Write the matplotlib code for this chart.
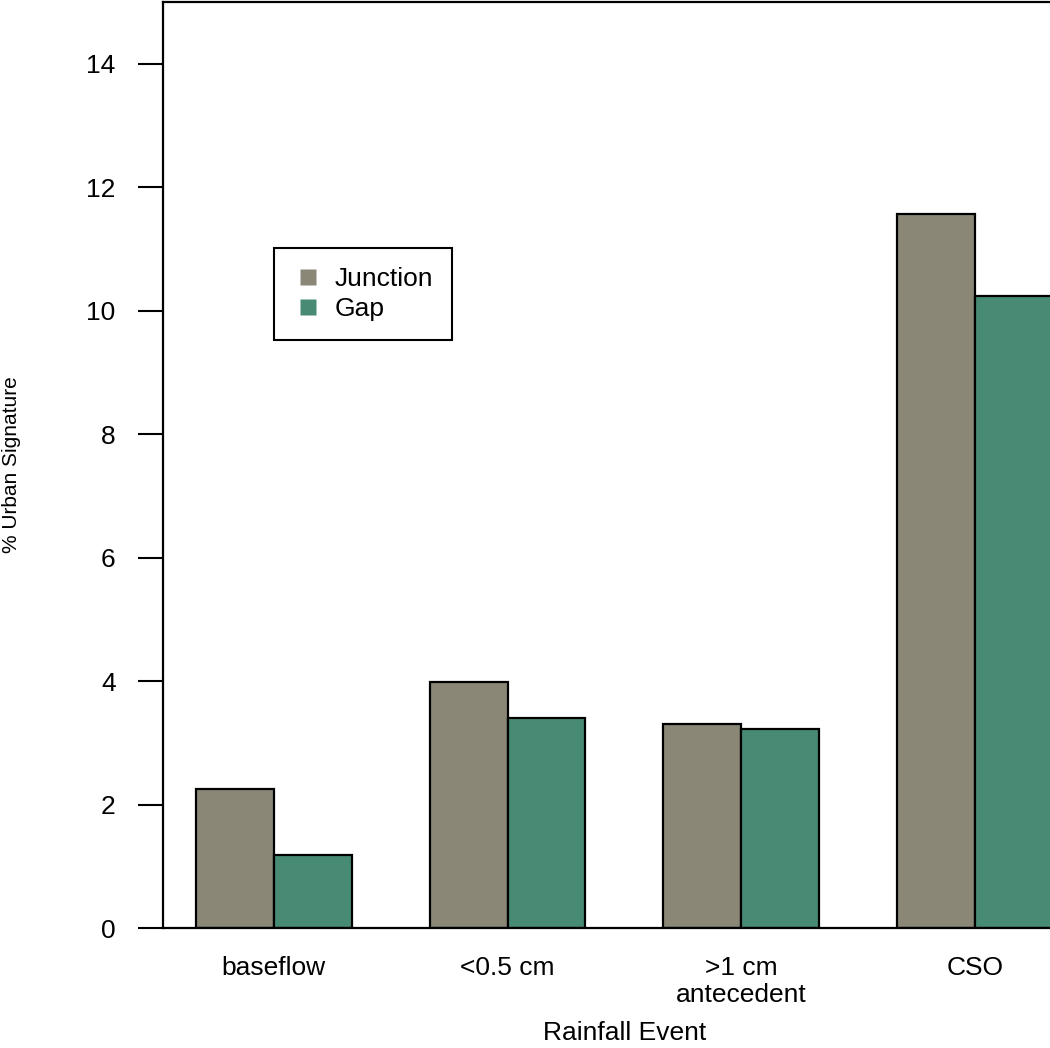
import numpy as np
import matplotlib
matplotlib.use("Agg")
import matplotlib.pyplot as plt
from matplotlib.lines import Line2D

plt.rcParams["font.family"] = ["Liberation Sans", "DejaVu Sans"]

# data
events = ["baseflow", "<0.5 cm", ">1 cm\nantecedent", "CSO"]
junction = [2.25, 3.98, 3.30, 11.57]
gap = [1.18, 3.40, 3.22, 10.24]
series_names = ["Junction", "Gap"]
colors = ["#8a8776", "#478b74"]
yticks = [0, 2, 4, 6, 8, 10, 12, 14]

fig = plt.figure(figsize=(10.5, 10.48), dpi=100)
# axes run past the right edge, as in the cropped original
ax = fig.add_axes([0.1552, 0.1145, 0.879, 0.8836])

# R-style beside barplot: bar width 1, one bar of space between groups
idx = np.arange(len(events))
left_j = 1 + 3 * idx
left_g = 2 + 3 * idx
ax.bar(left_j, junction, width=1, align="edge", color=colors[0],
       edgecolor="black", linewidth=1.6, zorder=2)
ax.bar(left_g, gap, width=1, align="edge", color=colors[1],
       edgecolor="black", linewidth=1.6, zorder=2)

ax.set_xlim(0.58, 12.42)
ax.set_ylim(0, 15)

ax.set_yticks(yticks)
ax.tick_params(axis="y", length=18, width=1.5, pad=16, labelsize=19)
ax.set_xticks(left_g)
ax.set_xticklabels(events, fontsize=19, linespacing=1.15)
ax.tick_params(axis="x", length=0, pad=20)

for s in ax.spines.values():
    s.set_linewidth(1.6)

ax.set_xlabel("Rainfall Event", fontsize=19, labelpad=10)
ax.set_ylabel("% Urban Signature", fontsize=15, labelpad=47)

handles = [Line2D([], [], linestyle="none", marker="s", markersize=12,
                  markerfacecolor=c, markeredgecolor="none") for c in colors]
leg = ax.legend(handles, series_names, loc="upper left",
                bbox_to_anchor=(0.120, 0.734), borderaxespad=0,
                fontsize=19, fancybox=False, framealpha=1,
                handlelength=1.17, handletextpad=0.45,
                borderpad=0.7, labelspacing=0.25)
leg.get_frame().set_edgecolor("black")
leg.get_frame().set_linewidth(1.5)

fig.savefig("out.png", dpi=100)
